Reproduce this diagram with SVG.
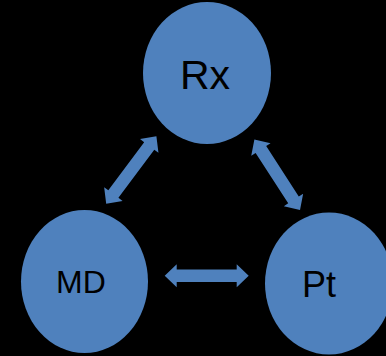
<svg xmlns="http://www.w3.org/2000/svg" width="386" height="356" viewBox="0 0 386 356">
  <defs>
    <style>
      .node { fill: #4F81BD; }
      .label { font-family: "Liberation Sans", Arial, sans-serif; fill: #000; text-anchor: middle; }
      .conn { fill: #4F81BD; }
    </style>
    <polygon id="dbl" points="-42,0 -30,-11.5 -30,-6.3 30,-6.3 30,-11.5 42,0 30,11.5 30,6.3 -30,6.3 -30,11.5"/>
  </defs>
  <rect x="0" y="0" width="386" height="356" fill="#000"/>
  <g id="connectors" class="conn">
    <use href="#dbl" transform="translate(131.3,170) rotate(-53.3)"/>
    <use href="#dbl" transform="translate(277.2,174.7) rotate(57.1)"/>
    <use href="#dbl" transform="translate(206.7,275.7)"/>
  </g>
  <g id="node-rx">
    <ellipse class="node" cx="207" cy="73" rx="64" ry="71"/>
    <text class="label" x="205" y="89" font-size="41">Rx</text>
  </g>
  <g id="node-md">
    <ellipse class="node" cx="84.5" cy="281.5" rx="63.5" ry="71.5"/>
    <text class="label" x="81" y="293" font-size="32">MD</text>
  </g>
  <g id="node-pt">
    <ellipse class="node" cx="329" cy="283.5" rx="64" ry="71"/>
    <text class="label" x="319" y="297" font-size="36">Pt</text>
  </g>
</svg>
